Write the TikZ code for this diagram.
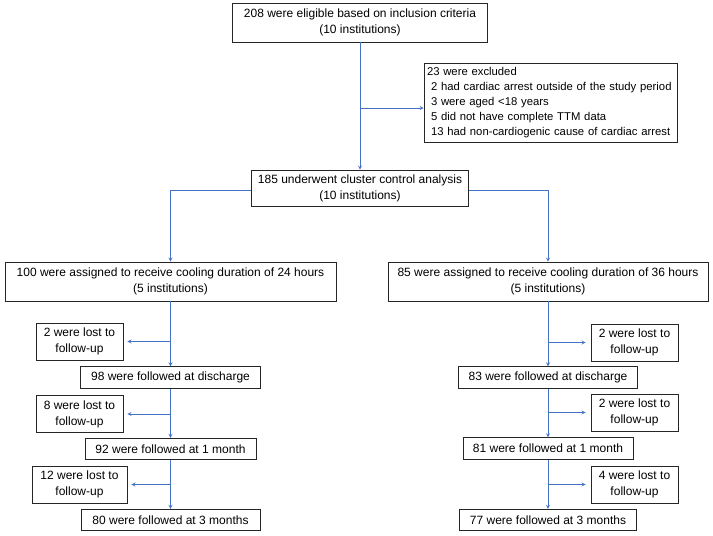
\documentclass[tikz,border=0pt]{standalone}
\usepackage{fontspec}
\setmainfont{Liberation Sans}
\usepackage{tikz}
\usetikzlibrary{arrows,positioning,calc}
\definecolor{flowblue}{RGB}{68,114,196}
\tikzset{
  b/.style={rectangle,draw=black!85,line width=0.8pt,align=center,inner sep=2pt,font=\fontsize{12}{16}\selectfont},
  lb/.style={b,minimum width=87pt,minimum height=37pt},
  fb/.style={b,minimum height=21.5pt},
  arr/.style={->,>=stealth,flowblue,line width=0.8pt},
}

\begin{document}
\begin{tikzpicture}[x=1pt,y=-1pt]
  \useasboundingbox (0,0) rectangle (713,536);
  \node[b,minimum width=255pt,minimum height=39pt] (elig) at (360,22.5) {208 were eligible based on inclusion criteria\\(10 institutions)};
  \node[b,align=left,text width=247pt,inner sep=3pt,minimum height=79pt,font=\fontsize{11.3}{15}\selectfont] (excl) at (550.5,102.5) {23 were excluded\\\hspace*{4pt}2 had cardiac arrest outside of the study period\\\hspace*{4pt}3 were aged <18 years\\\hspace*{4pt}5 did not have complete TTM data\\\hspace*{4pt}13 had non-cardiogenic cause of cardiac arrest};
  \node[b,minimum width=217pt,minimum height=36pt] (clus) at (360,188) {185 underwent cluster control analysis\\(10 institutions)};
  \node[b,minimum width=331pt,minimum height=39pt] (h24) at (170.5,281.5) {100 were assigned to receive cooling duration of 24 hours\\(5 institutions)};
  \node[b,minimum width=320pt,minimum height=39pt] (h36) at (548,281.5) {85 were assigned to receive cooling duration of 36 hours\\(5 institutions)};
  % 24 hours arm
  \node[lb] (la1) at (79.5,341.5) {2 were lost to\\follow-up};
  \node[fb,minimum width=180pt] (d24) at (170.5,377.5) {98 were followed at discharge};
  \node[lb] (la2) at (79.5,414) {8 were lost to\\follow-up};
  \node[fb,minimum width=171pt] (m24) at (170.5,449) {92 were followed at 1 month};
  \node[lb,minimum width=95pt] (la3) at (79.5,484.5) {12 were lost to\\follow-up};
  \node[fb,minimum width=179pt] (t24) at (170.5,520) {80 were followed at 3 months};
  % 36 hours arm
  \node[lb] (lb1) at (634.5,342.5) {2 were lost to\\follow-up};
  \node[fb,minimum width=179pt] (d36) at (548,377.5) {83 were followed at discharge};
  \node[lb] (lb2) at (634.5,412.5) {2 were lost to\\follow-up};
  \node[fb,minimum width=170pt] (m36) at (548,448.5) {81 were followed at 1 month};
  \node[lb] (lb3) at (634.5,484.5) {4 were lost to\\follow-up};
  \node[fb,minimum width=177pt] (t36) at (548,520) {77 were followed at 3 months};

  \draw[arr] (elig) -- (clus);
  \draw[arr] ([yshift=-5.5pt]excl.west -| elig.south) -- ([yshift=-5.5pt]excl.west);
  \draw[arr] ([yshift=-2pt]clus.west) -| (h24.north);
  \draw[arr] ([yshift=-2pt]clus.east) -| (h36.north);
  \draw[arr] (h24) -- (d24); \draw[arr] (d24) -- (m24); \draw[arr] (m24) -- (t24);
  \draw[arr] (h36) -- (d36); \draw[arr] (d36) -- (m36); \draw[arr] (m36) -- (t36);
  \draw[arr,shorten >=4pt] (la1 -| h24) -- (la1.east);
  \draw[arr,shorten >=4pt] (la2 -| h24) -- (la2.east);
  \draw[arr,shorten >=4pt] (la3 -| h24) -- (la3.east);
  \draw[arr,shorten >=5pt] (lb1 -| h36) -- (lb1.west);
  \draw[arr,shorten >=5pt] (lb2 -| h36) -- (lb2.west);
  \draw[arr,shorten >=5pt] (lb3 -| h36) -- (lb3.west);
\end{tikzpicture}
\end{document}
